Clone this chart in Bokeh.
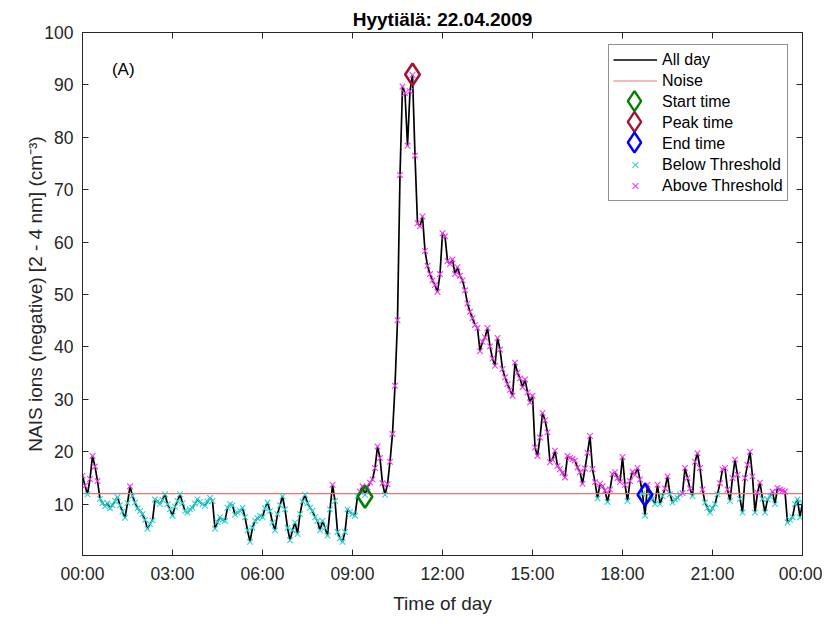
import math
from bokeh.plotting import figure
from bokeh.models import (Range1d, LinearAxis, FixedTicker, Label, Legend, LegendItem,
                          CustomJSTickFormatter, Title)
from bokeh.embed import file_html
from bokeh.resources import INLINE

# ---------------- data ----------------
title_text = "Hyytiälä: 22.04.2009"
panel_tag = "(A)"
x_label = "Time of day"
y_label = "NAIS ions (negative) [2 - 4 nm] (cm⁻³)"
step_minutes = 5

# 5-minute values, one row per hour (00:00 ... 23:55) plus the final 24:00 value
ions = [
    15.4, 13.5, 11.9, 14.8, 19.2, 17.2, 14.4, 11.0, 10.2, 9.6, 10.2, 9.2,
    9.8, 10.6, 11.3, 9.8, 8.6, 7.4, 10.2, 13.4, 11.6, 10.3, 9.2, 8.7,
    8.1, 7.0, 5.3, 6.2, 6.9, 10.9, 10.5, 10.0, 10.8, 11.9, 10.0, 9.0,
    7.8, 9.5, 10.6, 11.9, 10.2, 8.7, 8.4, 9.0, 9.3, 10.1, 10.9, 10.4,
    10.0, 9.7, 10.5, 11.2, 10.6, 5.3, 6.6, 7.5, 7.0, 6.8, 9.3, 10.0,
    9.8, 8.0, 8.4, 8.7, 9.3, 7.5, 5.0, 2.8, 5.5, 6.8, 7.3, 7.8,
    7.5, 9.2, 10.3, 8.7, 6.5, 5.0, 8.1, 9.8, 11.5, 9.0, 5.5, 3.1,
    5.0, 6.5, 4.3, 8.1, 10.5, 11.8, 10.2, 9.3, 8.7, 7.5, 6.8, 5.0,
    6.8, 5.5, 4.0, 9.0, 13.7, 10.6, 4.7, 3.5, 2.8, 4.7, 9.0, 8.5,
    8.1, 7.8, 11.5, 12.4, 13.4, 11.8, 13.2, 14.1, 14.7, 16.9, 21.0, 18.8,
    14.0, 11.8, 13.8, 18.1, 23.4, 32.6, 45.1, 72.8, 89.7, 88.4, 78.4, 88.8,
    91.9, 76.5, 63.6, 63.0, 64.9, 58.3, 55.5, 53.9, 52.7, 51.8, 50.5, 53.9,
    61.7, 61.1, 56.4, 55.8, 56.7, 53.9, 55.2, 53.6, 52.7, 50.8, 48.3, 46.7,
    45.5, 44.2, 43.6, 39.2, 41.0, 41.8, 43.6, 40.1, 37.8, 36.4, 41.7, 39.5,
    35.8, 34.2, 32.9, 31.8, 30.7, 37.0, 35.1, 34.0, 32.3, 33.8, 31.3, 29.4,
    30.7, 20.8, 19.2, 22.7, 27.4, 26.0, 23.7, 18.0, 18.5, 20.2, 17.3, 16.7,
    16.0, 15.1, 19.2, 18.8, 18.6, 18.3, 17.0, 16.1, 13.9, 16.8, 19.8, 23.0,
    16.7, 14.2, 11.1, 13.9, 13.4, 12.6, 10.4, 12.8, 15.7, 16.1, 15.0, 14.2,
    19.0, 13.7, 10.6, 14.4, 16.2, 15.6, 16.9, 14.7, 12.0, 7.8, 13.7, 11.5,
    11.0, 10.0, 13.7, 10.0, 11.5, 13.0, 15.3, 11.9, 10.3, 10.9, 11.2, 11.9,
    12.1, 16.9, 15.0, 13.0, 11.5, 18.1, 19.7, 16.9, 12.8, 10.3, 9.3, 8.4,
    9.2, 10.0, 11.9, 14.0, 16.6, 16.9, 12.8, 10.6, 15.0, 18.5, 15.6, 11.0,
    8.4, 15.0, 17.5, 20.0, 15.3, 8.4, 12.2, 14.1, 11.0, 8.4, 10.9, 11.5,
    12.4, 10.0, 13.1, 12.8, 12.6, 12.4, 6.5, 7.0, 7.5, 10.0, 10.9, 7.5,
    10.3,
]
noise_level = 12.0
noise_hours = [0.0, 24.0]

event_names = ["Start time", "Peak time", "End time"]
event_hours = [9.4167, 11.0, 18.75]
event_values = [11.4, 92.0, 11.8]
event_colors = ["#008000", "#a2142f", "#0000ff"]

x_tick_hours = [0, 3, 6, 9, 12, 15, 18, 21, 24]
x_tick_labels = ["00:00", "03:00", "06:00", "09:00", "12:00", "15:00", "18:00", "21:00", "00:00"]
y_ticks = [10, 20, 30, 40, 50, 60, 70, 80, 90, 100]

# ---------------- layout constants ----------------
X0, X1 = 0.0, 24.0
Y0, Y1 = 0.2, 100.0
FW, FH = 720, 530            # frame size in px
LEG_LEFT, LEG_TOP = 526, 13  # legend box offset inside the frame (px)
LEG_PAD, LEG_GW, LEG_ROW = 4, 44, 21
LEG_Y_FIX = 8                # empirical offset of Bokeh's legend anchor

# ---------------- derived ----------------
hours = [i * step_minutes / 60.0 for i in range(len(ions))]
below_h = [h for h, v in zip(hours, ions) if v <= noise_level]
below_v = [v for v in ions if v <= noise_level]
above_h = [h for h, v in zip(hours, ions) if v > noise_level]
above_v = [v for v in ions if v > noise_level]

FONT = "Liberation Sans"
AX = "#262626"

p = figure(width=822, height=616, output_backend="svg", toolbar_location=None,
           x_range=Range1d(X0, X1), y_range=Range1d(Y0, Y1),
           min_border_left=82, min_border_right=20, min_border_top=32, min_border_bottom=54)
p.title = Title(text=title_text, align="center", text_font=FONT, text_font_size="19px",
                text_font_style="bold", text_color="black", standoff=6)
p.background_fill_color = "white"
p.border_fill_color = "white"
p.outline_line_color = AX
p.outline_line_width = 1
p.xgrid.visible = False
p.ygrid.visible = False

xa = p.xaxis[0]
xa.ticker = FixedTicker(ticks=x_tick_hours)
xa.major_label_overrides = {t: l for t, l in zip(x_tick_hours, x_tick_labels)}
ya = p.yaxis[0]
ya.ticker = FixedTicker(ticks=y_ticks)
for ax in (xa, ya):
    ax.axis_line_color = AX
    ax.major_tick_line_color = AX
    ax.major_tick_in = 6
    ax.major_tick_out = 0
    ax.minor_tick_line_color = None
    ax.major_label_text_font = FONT
    ax.major_label_text_font_size = "17.5px"
    ax.major_label_text_color = AX
    ax.axis_label_text_font = FONT
    ax.axis_label_text_font_size = "19px"
    ax.axis_label_text_font_style = "normal"
    ax.axis_label_text_color = AX
xa.major_label_standoff = 8
ya.major_label_standoff = 9
xa.axis_label = x_label
xa.axis_label_standoff = 6
ya.axis_label = y_label
ya.axis_label_standoff = -5

top = LinearAxis(ticker=FixedTicker(ticks=x_tick_hours), formatter=CustomJSTickFormatter(code="return ''"))
right = LinearAxis(ticker=FixedTicker(ticks=y_ticks), formatter=CustomJSTickFormatter(code="return ''"))
for ax in (top, right):
    ax.axis_line_color = AX
    ax.major_tick_line_color = AX
    ax.major_tick_in = 6
    ax.major_tick_out = 0
    ax.minor_tick_line_color = None
    ax.major_label_standoff = 0
    ax.major_label_text_font_size = "1px"
p.add_layout(top, "above")
p.add_layout(right, "right")

# glyphs
r_all = p.line(hours, ions, line_color="black", line_width=1.7)
r_noise = p.line(noise_hours, [noise_level, noise_level], line_color="#f07070", line_width=1.2)
r_below = p.scatter(below_h, below_v, marker="x", size=8, line_color="#2fd4d4", line_width=1.1)
r_above = p.scatter(above_h, above_v, marker="x", size=8, line_color="#ee3cee", line_width=1.1)
ev_legend_stub = []
for name, h, v, c in zip(event_names, event_hours, event_values, event_colors):
    p.scatter([h], [v], marker="diamond", size=22, fill_color=None, line_color=c, line_width=2.6)
    # invisible stand-in so the legend reserves a row for the item
    stub = p.scatter([], [], marker="diamond", size=1, fill_alpha=0, line_alpha=0)
    ev_legend_stub.append((name, stub))

# full-size diamond symbols for legend rows 3-5 (legend box is see-through; no data lies under it)
sym_x_px = LEG_LEFT + LEG_PAD + LEG_GW / 2
sym_x = X0 + sym_x_px / FW * (X1 - X0)
sym_y = [Y1 - (LEG_TOP + LEG_PAD + (k + 2.5) * LEG_ROW) / FH * (Y1 - Y0) for k in range(3)]
for yy, c in zip(sym_y, event_colors):
    p.scatter([sym_x], [yy], marker="diamond", size=20, fill_color=None,
              line_color=c, line_width=2.4)

leg_h = 7 * LEG_ROW + 2 * LEG_PAD
legend = Legend(items=[LegendItem(label="All day", renderers=[r_all]),
                       LegendItem(label="Noise", renderers=[r_noise])] +
                      [LegendItem(label=n, renderers=[r]) for n, r in ev_legend_stub] +
                      [LegendItem(label="Below Threshold", renderers=[r_below]),
                       LegendItem(label="Above Threshold", renderers=[r_above])],
                location=(LEG_LEFT, FH - LEG_TOP - leg_h - LEG_Y_FIX))
legend.margin = 0
legend.padding = LEG_PAD
legend.spacing = 0
legend.glyph_width = LEG_GW
legend.glyph_height = LEG_ROW
legend.label_height = LEG_ROW
legend.label_standoff = 5
legend.label_text_font = FONT
legend.label_text_font_size = "16px"
legend.label_text_color = "black"
legend.border_line_color = AX
legend.border_line_width = 1
legend.background_fill_alpha = 0
p.add_layout(legend)

p.add_layout(Label(x=0.98, y=93.0, text=panel_tag, text_font=FONT, text_font_size="17px",
                   text_color="black", text_align="left", text_baseline="alphabetic"))

open("out.html", "w").write(file_html(p, INLINE))
